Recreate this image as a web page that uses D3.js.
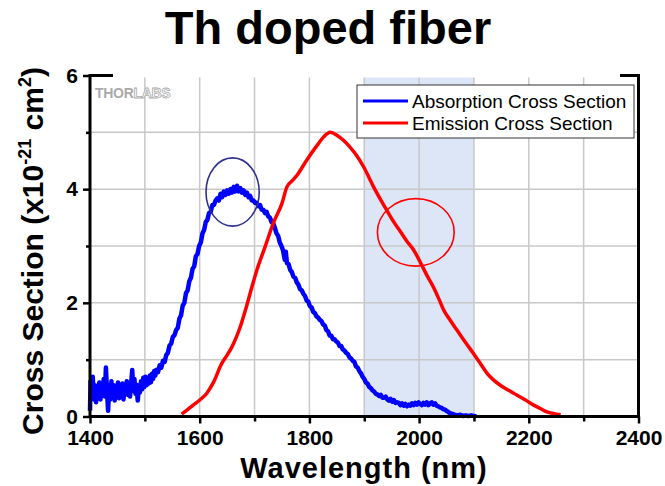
<!DOCTYPE html>
<html>
<head>
<meta charset="utf-8">
<script src="https://cdn.jsdelivr.net/npm/d3@7"></script>
<style>
  body { margin: 0; background: #fff; }
  svg { display: block; font-family: "Liberation Sans", Arial, sans-serif; }
</style>
</head>
<body>
<svg id="chart" width="665" height="486"></svg>
<script>
// ---- data ----
var xMajorTicks = [1400, 1600, 1800, 2000, 2200, 2400];
var xMinorTicks = [1500, 1700, 1900, 2100, 2300];
var yMajorTicks = [0, 2, 4, 6];
var yMinorTicks = [1, 3, 5];
var xGrid = [1500, 1600, 1700, 1800, 1900, 2000, 2100, 2200, 2300];
var yGrid = [1, 2, 3, 4, 5];
var shadeBand = [1900, 2100];

// absorption cross section [wavelength nm, x1e-21 cm^2] (noisy trace)
var absorption = [
  [1400,0.10],[1401,0.62],[1403,0.35],[1405,0.70],[1407,0.30],[1409,0.55],[1411,0.25],
  [1413,0.50],[1415,0.38],[1417,0.60],[1419,0.30],[1421,0.52],[1423,0.40],[1425,0.66],
  [1427,0.35],[1429,0.86],[1431,0.45],[1433,0.10],[1435,0.55],[1437,0.30],[1439,0.62],
  [1441,0.36],[1443,0.55],[1445,0.28],[1447,0.50],[1449,0.38],[1451,0.60],[1453,0.32],
  [1455,0.48],[1457,0.40],[1459,0.58],[1461,0.30],[1463,0.50],[1465,0.40],[1467,0.62],
  [1469,0.38],[1471,0.52],[1473,0.35],[1475,0.58],[1477,0.82],[1479,0.45],[1481,0.66],
  [1483,0.40],[1485,0.56],[1487,0.28],[1489,0.50],[1491,0.42],[1493,0.62],[1495,0.48],
  [1497,0.68],[1499,0.52],[1501,0.70],[1503,0.55],[1505,0.66],[1507,0.58],[1509,0.72],
  [1511,0.60],[1513,0.75],[1515,0.66],[1517,0.80],[1519,0.72],[1521,0.82],[1524,0.78],
  [1527,0.90],[1530,0.86],[1533,0.98],[1536,0.96],[1539,1.08],[1542,1.12],[1545,1.25],
  [1548,1.28],[1551,1.40],[1554,1.43],[1557,1.52],[1560,1.56],[1563,1.72],[1566,1.78],
  [1569,1.95],[1572,2.00],[1575,2.17],[1578,2.22],[1581,2.38],[1584,2.44],[1587,2.60],
  [1590,2.64],[1593,2.82],[1596,2.86],[1599,3.00],[1602,3.06],[1605,3.22],[1608,3.28],
  [1611,3.42],[1614,3.46],[1617,3.58],[1620,3.60],[1623,3.72],[1626,3.72],[1629,3.80],
  [1632,3.84],[1635,3.80],[1638,3.92],[1641,3.86],[1644,3.96],[1647,3.90],[1650,3.98],
  [1653,3.92],[1656,4.00],[1659,3.94],[1662,4.04],[1665,3.96],[1668,4.06],[1671,3.96],
  [1674,4.02],[1677,3.94],[1680,3.98],[1683,3.90],[1686,3.94],[1689,3.86],[1692,3.88],
  [1695,3.80],[1698,3.80],[1701,3.76],[1704,3.76],[1707,3.70],[1710,3.72],[1713,3.64],
  [1716,3.64],[1719,3.58],[1722,3.60],[1725,3.52],[1728,3.50],[1731,3.42],[1734,3.40],
  [1737,3.32],[1740,3.22],[1743,3.18],[1746,3.06],[1749,3.00],[1752,2.92],[1755,2.76],
  [1757,2.90],[1759,2.70],[1762,2.68],[1765,2.58],[1768,2.54],[1771,2.46],[1774,2.44],
  [1777,2.36],[1780,2.32],[1783,2.24],[1786,2.22],[1789,2.16],[1792,2.12],[1795,2.04],
  [1798,2.02],[1801,1.94],[1804,1.92],[1807,1.84],[1810,1.82],[1813,1.76],[1816,1.74],
  [1819,1.70],[1822,1.68],[1825,1.62],[1828,1.60],[1831,1.52],[1834,1.50],[1837,1.42],
  [1840,1.42],[1843,1.36],[1846,1.36],[1849,1.32],[1852,1.30],[1855,1.24],[1858,1.24],
  [1861,1.18],[1864,1.16],[1867,1.12],[1870,1.10],[1873,1.04],[1876,1.02],[1879,0.98],
  [1882,0.96],[1885,0.88],[1888,0.86],[1891,0.80],[1894,0.76],[1897,0.70],[1900,0.66],
  [1903,0.60],[1906,0.58],[1909,0.52],[1912,0.50],[1915,0.46],[1918,0.44],[1921,0.40],
  [1924,0.39],[1927,0.36],[1930,0.38],[1933,0.33],[1936,0.33],[1939,0.35],[1942,0.30],
  [1945,0.28],[1948,0.31],[1951,0.26],[1954,0.29],[1957,0.24],[1960,0.25],[1963,0.24],
  [1966,0.20],[1969,0.23],[1972,0.19],[1975,0.22],[1978,0.18],[1981,0.21],[1984,0.19],
  [1987,0.23],[1990,0.20],[1993,0.24],[1996,0.21],[1999,0.25],[2002,0.22],[2005,0.20],
  [2008,0.24],[2011,0.21],[2014,0.25],[2017,0.20],[2020,0.23],[2023,0.25],[2026,0.21],
  [2029,0.23],[2032,0.19],[2035,0.18],[2038,0.16],[2041,0.15],[2044,0.13],[2047,0.12],
  [2050,0.10],[2053,0.08],[2056,0.06],[2059,0.05],[2062,0.04],[2065,0.03],[2070,0.02],
  [2075,0.03],[2080,0.01],[2085,0.02],[2090,0.01],[2095,0.02],[2100,0.01],[2104,0.00]
];

// emission cross section [wavelength nm, x1e-21 cm^2]
var emission = [
  [1567,0.04],[1575,0.10],[1588,0.20],[1600,0.29],[1613,0.41],[1625,0.60],[1640,0.93],
  [1650,1.08],[1659,1.23],[1667,1.40],[1674,1.58],[1683,1.86],[1692,2.17],[1704,2.57],
  [1719,2.98],[1734,3.40],[1750,3.75],[1759,4.04],[1768,4.14],[1777,4.24],[1795,4.51],
  [1814,4.77],[1826,4.92],[1838,5.00],[1850,4.95],[1862,4.86],[1874,4.74],[1887,4.58],
  [1899,4.39],[1908,4.22],[1917,4.04],[1929,3.83],[1941,3.63],[1954,3.42],[1966,3.25],
  [1978,3.08],[1990,2.93],[2005,2.66],[2015,2.47],[2026,2.28],[2036,2.07],[2045,1.87],
  [2057,1.69],[2069,1.52],[2084,1.31],[2099,1.11],[2112,0.93],[2124,0.76],[2136,0.64],
  [2148,0.55],[2163,0.46],[2178,0.38],[2194,0.29],[2209,0.20],[2221,0.14],[2233,0.08],
  [2246,0.05],[2258,0.03]
];

var seriesNames = ["Absorption Cross Section", "Emission Cross Section"];
var seriesColors = ["#0000ff", "#ff0000"];

// hand-drawn ellipses: centre (nm, value), radii (nm, value)
var marks = [
  {cx: 1660, cy: 3.95, rx: 48.5, ry: 0.60, color: "#2e3192"},
  {cx: 1994, cy: 3.24, rx: 70, ry: 0.594, color: "#ff0000"}
];

// ---- chart config ----
var svg = d3.select("#chart");
var plotL = 90, plotR = 638.5, plotT = 75.5, plotB = 416.5;

var xScale = d3.scaleLinear().domain([1400, 2400]).range([plotL, plotR]);
var yScale = d3.scaleLinear().domain([0, 6]).range([plotB, plotT]);

// shaded band
svg.append("rect")
    .attr("x", xScale(shadeBand[0]))
    .attr("y", plotT)
    .attr("width", xScale(shadeBand[1]) - xScale(shadeBand[0]))
    .attr("height", plotB - plotT)
    .attr("fill", "#dce6f6");

// grid
svg.append("g").selectAll("line").data(xGrid).enter().append("line")
    .attr("x1", function(d) { return xScale(d); })
    .attr("x2", function(d) { return xScale(d); })
    .attr("y1", plotT).attr("y2", plotB)
    .attr("stroke", "#c8c8c8").attr("stroke-width", 1.5);
svg.append("g").selectAll("line").data(yGrid).enter().append("line")
    .attr("x1", plotL).attr("x2", plotR)
    .attr("y1", function(d) { return yScale(d); })
    .attr("y2", function(d) { return yScale(d); })
    .attr("stroke", "#c8c8c8").attr("stroke-width", 1.5);

// curves
var line = d3.line()
    .x(function(d) { return xScale(d[0]); })
    .y(function(d) { return yScale(d[1]); });

svg.append("path").datum(absorption)
    .attr("d", line)
    .attr("fill", "none")
    .attr("stroke", seriesColors[0])
    .attr("stroke-width", 4.5)
    .attr("stroke-linejoin", "round");

svg.append("path").datum(emission)
    .attr("d", line.curve(d3.curveMonotoneX))
    .attr("fill", "none")
    .attr("stroke", seriesColors[1])
    .attr("stroke-width", 3.5)
    .attr("stroke-linejoin", "round");

// ---- axes ----
var xAxisMajor = d3.axisBottom(xScale).tickValues(xMajorTicks).tickFormat(d3.format("d"))
    .tickSize(7).tickPadding(7).tickSizeOuter(0);
var xAxisMinor = d3.axisBottom(xScale).tickValues(xMinorTicks).tickSize(5).tickFormat("").tickSizeOuter(0);
var yAxisMajor = d3.axisLeft(yScale).tickValues(yMajorTicks).tickFormat(d3.format("d"))
    .tickSize(7).tickPadding(5).tickSizeOuter(0);
var yAxisMinor = d3.axisLeft(yScale).tickValues(yMinorTicks).tickSize(4).tickFormat("").tickSizeOuter(0);

function styleAxis(sel) {
    sel.selectAll(".domain").remove();
    sel.selectAll(".tick line").attr("stroke", "#000").attr("stroke-width", 2.5);
    sel.selectAll(".tick text")
        .attr("fill", "#000")
        .style("font-size", "21px")
        .style("font-weight", "bold")
        .style("font-family", "'Liberation Sans', Arial, sans-serif");
}

svg.append("g").attr("transform", "translate(0," + plotB + ")").call(xAxisMajor).call(styleAxis);
svg.append("g").attr("transform", "translate(0," + plotB + ")").call(xAxisMinor).call(styleAxis);
svg.append("g").attr("transform", "translate(" + plotL + ",0)").call(yAxisMajor).call(styleAxis);
svg.append("g").attr("transform", "translate(" + plotL + ",0)").call(yAxisMinor).call(styleAxis);

// frame
svg.append("rect")
    .attr("x", plotL).attr("y", plotT)
    .attr("width", plotR - plotL).attr("height", plotB - plotT)
    .attr("fill", "none").attr("stroke", "#000").attr("stroke-width", 3);

// white title box hides the top of the frame
svg.append("rect")
    .attr("x", 113).attr("y", 0)
    .attr("width", 620 - 113).attr("height", 77.5)
    .attr("fill", "#fff");

// title
svg.append("text")
    .attr("x", 328).attr("y", 44)
    .attr("text-anchor", "middle")
    .style("font-size", "47px")
    .style("font-weight", "bold")
    .text("Th doped fiber");

// axis titles
svg.append("text")
    .attr("x", 364).attr("y", 478)
    .attr("text-anchor", "middle")
    .style("font-size", "29px")
    .style("font-weight", "bold")
    .style("letter-spacing", "1px")
    .text("Wavelength (nm)");

var yTitle = svg.append("text")
    .attr("transform", "translate(43,251) rotate(-90)")
    .attr("text-anchor", "middle")
    .style("font-size", "30px")
    .style("font-weight", "bold");
yTitle.append("tspan").text("Cross Section (x10");
yTitle.append("tspan").attr("dy", -12).style("font-size", "18px").text("-21");
yTitle.append("tspan").attr("dy", 12).text(" cm");
yTitle.append("tspan").attr("dy", -12).style("font-size", "18px").text("2");
yTitle.append("tspan").attr("dy", 12).text(")");

// watermark
var wm = svg.append("text")
    .attr("x", 95).attr("y", 98)
    .style("font-size", "14px")
    .style("font-weight", "bold")
    .style("letter-spacing", "-0.3px");
wm.append("tspan").attr("fill", "#aaaaaa").text("THOR");
wm.append("tspan").attr("fill", "#fff").attr("stroke", "#aaaaaa").attr("stroke-width", 0.8).text("LABS");

// legend
var legend = svg.append("g");
legend.append("rect")
    .attr("x", 357).attr("y", 85)
    .attr("width", 277).attr("height", 53)
    .attr("fill", "#fff").attr("stroke", "#333").attr("stroke-width", 1);
seriesNames.forEach(function(name, i) {
    var yy = 101 + i * 22;
    legend.append("line")
        .attr("x1", 363).attr("x2", 408)
        .attr("y1", yy).attr("y2", yy)
        .attr("stroke", seriesColors[i]).attr("stroke-width", 3);
    legend.append("text")
        .attr("x", 412).attr("y", yy + 6.5)
        .style("font-size", "19px")
        .text(name);
});

// annotation ellipses
svg.append("g").selectAll("ellipse").data(marks).enter().append("ellipse")
    .attr("cx", function(d) { return xScale(d.cx); })
    .attr("cy", function(d) { return yScale(d.cy); })
    .attr("rx", function(d) { return xScale(d.cx + d.rx) - xScale(d.cx); })
    .attr("ry", function(d) { return yScale(d.cy - d.ry) - yScale(d.cy); })
    .attr("fill", "none")
    .attr("stroke", function(d) { return d.color; })
    .attr("stroke-width", 1.6);
</script>
</body>
</html>
